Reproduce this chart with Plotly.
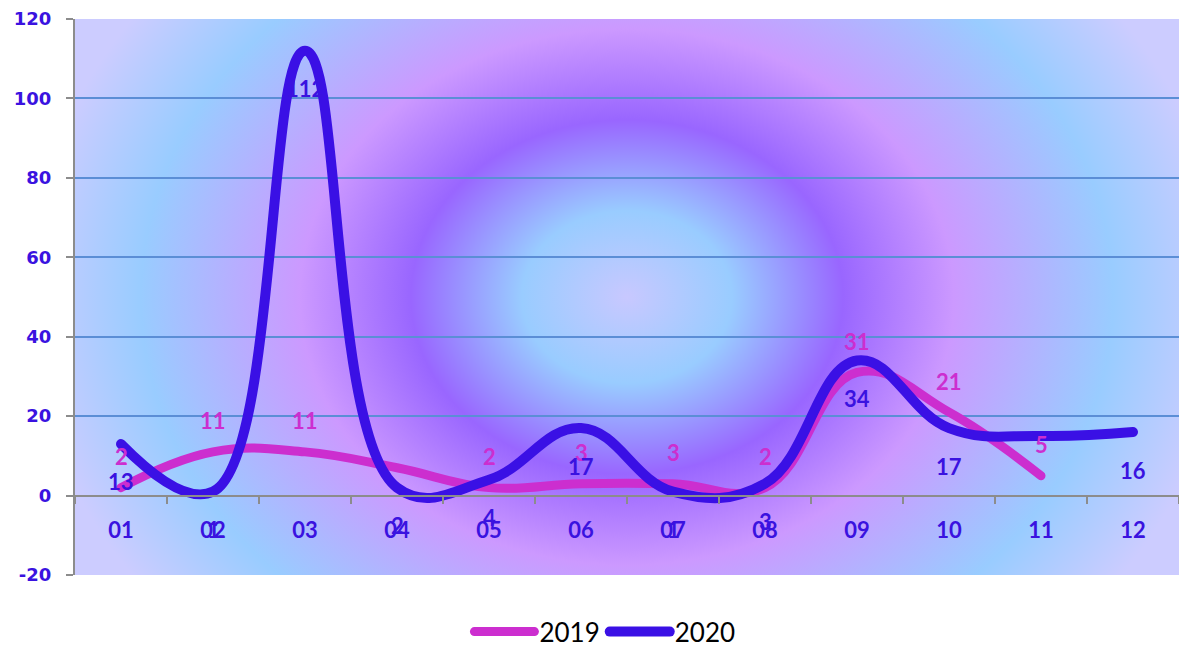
import base64
import plotly.graph_objects as go

months = ["01", "02", "03", "04", "05", "06", "07", "08", "09", "10", "11", "12"]
values_2019 = [2, 11, 11, 7, 2, 3, 3, 2, 31, 21, 5, None]
values_2020 = [13, 1, 112, 2, 4, 17, 1, 3, 34, 17, 15, 16]
# labels visible in the reference (None = not visible)
labels_2019 = ["2", "11", "11", None, "2", "3", "3", "2", "31", "21", "5", None]
labels_2020 = ["13", "1", "112", "2", "4", "17", "1", "3", "34", "17", None, "16"]
y_ticks = [-20, 0, 20, 40, 60, 80, 100, 120]

C2019 = "#CC2ECF"
C2020 = "#3A10E5"
LABEL = "#3A12E0"

W, H = 1104, 556
svg = f"""<svg xmlns='http://www.w3.org/2000/svg' width='{W}' height='{H}' viewBox='0 0 {W} {H}' preserveAspectRatio='none'>
<defs><radialGradient id='g' gradientUnits='userSpaceOnUse' cx='{W/2}' cy='{H/2}' r='600'
gradientTransform='translate({W/2} {H/2}) scale(1 0.82) translate({-W/2} {-H/2})'>
<stop offset='0' stop-color='#C8C8FF'/>
<stop offset='0.175' stop-color='#99CCFF'/>
<stop offset='0.36' stop-color='#9966FF'/>
<stop offset='0.545' stop-color='#CC99FF'/>
<stop offset='0.81' stop-color='#99CCFF'/>
<stop offset='1' stop-color='#CCCCFF'/>
</radialGradient></defs>
<rect x='0' y='0' width='{W}' height='{H}' fill='url(#g)'/></svg>"""
src = "data:image/svg+xml;base64," + base64.b64encode(svg.encode()).decode()

fig = go.Figure()
fig.add_trace(go.Scatter(x=months, y=values_2019, name="2019", mode="lines",
                         line=dict(color=C2019, width=9, shape="spline", smoothing=1.2)))
fig.add_trace(go.Scatter(x=months, y=values_2020, name="2020", mode="lines",
                         line=dict(color=C2020, width=10, shape="spline", smoothing=1.2)))

annotations = []
for i, (v, t) in enumerate(zip(values_2019, labels_2019)):
    if t is not None and v is not None:
        annotations.append(dict(x=i, y=v, text=f"<b>{t}</b>", showarrow=False, yshift=31,
                                font=dict(family="Lato", size=22, color=C2019)))
for i, (v, t) in enumerate(zip(values_2020, labels_2020)):
    if t is not None and v is not None:
        annotations.append(dict(x=i, y=v, text=f"<b>{t}</b>", showarrow=False, yshift=-38,
                                font=dict(family="Lato", size=22, color=LABEL)))

fig.update_layout(
    width=1179, height=646,
    margin=dict(l=75, r=0, t=19, b=71, autoexpand=False),
    paper_bgcolor="white",
    plot_bgcolor="rgba(0,0,0,0)",
    images=[dict(source=src, xref="paper", yref="paper", x=0, y=1, sizex=1, sizey=1,
                 xanchor="left", yanchor="top", sizing="stretch", layer="below")],
    annotations=annotations,
    showlegend=True,
    legend=dict(orientation="h", x=0.480, xanchor="center", y=-0.102, yanchor="middle",
                font=dict(family="Lato", size=26, color="black"), bgcolor="rgba(0,0,0,0)",
                itemwidth=60),
    xaxis=dict(
        type="category", anchor="free", position=20 / 140, range=[-0.5, len(months) - 0.5],
        showline=True, linecolor="#8C8C8C", linewidth=2,
        ticks="outside", ticklen=7, tickcolor="#8C8C8C", tickwidth=2,
        tickson="boundaries", showgrid=False, zeroline=False,
        tickfont=dict(family="Lato", size=22, color=LABEL, weight="bold"),
        ticklabelstandoff=15,
    ),
    yaxis=dict(
        range=[-20, 120], tickvals=y_ticks, ticktext=[str(v) for v in y_ticks],
        showline=True, linecolor="#8C8C8C", linewidth=2,
        ticks="outside", ticklen=7, tickcolor="#8C8C8C", tickwidth=2,
        showgrid=True, gridcolor="#5B8ED6", gridwidth=2, zeroline=False,
        tickfont=dict(family="DejaVu Sans", size=18, color=LABEL, weight="bold"),
        ticklabelstandoff=11,
    ),
)

post = """
document.body.style.margin='0';
document.querySelectorAll('path.js-line').forEach(function(p){p.style.strokeLinecap='round';p.style.strokeLinejoin='round';});
document.querySelectorAll('.legendlines path').forEach(function(p){p.style.strokeLinecap='round';});
"""
fig.write_html("out.html", post_script=post, config={"displayModeBar": False})
